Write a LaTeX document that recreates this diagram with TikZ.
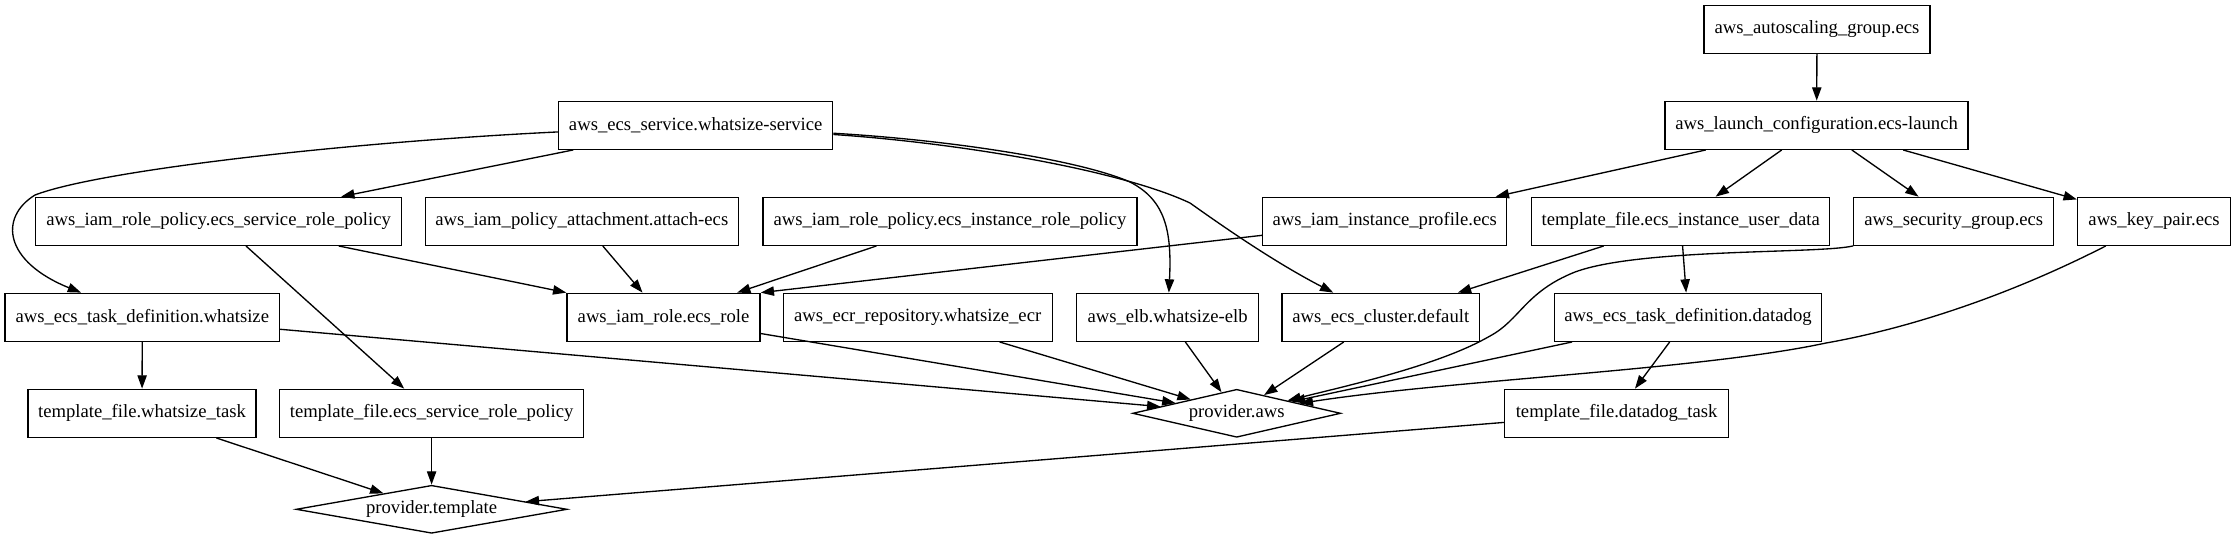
\documentclass[tikz,border=0pt]{standalone}
\usepackage{fontspec}
\setmainfont{Liberation Serif}
\usetikzlibrary{arrows.meta,shapes.geometric}
\begin{document}
\begin{tikzpicture}[x=0.75pt,y=-0.75pt,
  box/.style={draw, rectangle, line width=1pt, minimum height=36pt, inner xsep=3pt, inner ysep=0pt,
    font=\fontsize{14pt}{16pt}\selectfont, minimum width=#1*0.75pt},
  dia/.style 2 args={draw, diamond, line width=1pt, inner sep=0pt, minimum width=#1*0.75pt,
    minimum height=36pt, shape aspect=#2, font=\fontsize{14pt}{16pt}\selectfont},
  edge/.style={line width=1pt, -{Triangle[length=10pt,width=7pt]}}]
\fill[white] (0,0) rectangle (2236,539);
\useasboundingbox (0,0) rectangle (2236,539);

% row 0
\node[box=226] (asg) at (1817,29.3) {aws\_autoscaling\_group.ecs};
% row 1
\node[box=274] (svc) at (695.7,125.3) {aws\_ecs\_service.whatsize-service};
\node[box=303] (lc) at (1816.6,125.3) {aws\_launch\_configuration.ecs-launch};
% row 2
\node[box=366] (iamsrp) at (218.6,221.3) {aws\_iam\_role\_policy.ecs\_service\_role\_policy};
\node[box=313] (attach) at (581.8,221.3) {aws\_iam\_policy\_attachment.attach-ecs};
\node[box=374] (iamirp) at (950,221.3) {aws\_iam\_role\_policy.ecs\_instance\_role\_policy};
\node[box=244] (instprof) at (1384.7,221.3) {aws\_iam\_instance\_profile.ecs};
\node[box=298] (tfuser) at (1680.7,221.3) {template\_file.ecs\_instance\_user\_data};
\node[box=200] (sg) at (1953.8,221.3) {aws\_security\_group.ecs};
\node[box=153] (kp) at (2154,221.3) {aws\_key\_pair.ecs};
% row 3
\node[box=274.5] (tdw) at (142.3,317.3) {aws\_ecs\_task\_definition.whatsize};
\node[box=193] (iamrole) at (663.5,317.3) {aws\_iam\_role.ecs\_role};
\node[box=269] (ecr) at (917.7,317.3) {aws\_ecr\_repository.whatsize\_ecr};
\node[box=182] (elb) at (1167.6,317.3) {aws\_elb.whatsize-elb};
\node[box=197.6] (cluster) at (1380.8,317.3) {aws\_ecs\_cluster.default};
\node[box=267.6] (tddd) at (1688,317.3) {aws\_ecs\_task\_definition.datadog};
% row 4
\node[box=228] (tfw) at (142,413.3) {template\_file.whatsize\_task};
\node[box=304] (tfsrp) at (431.6,413.3) {template\_file.ecs\_service\_role\_policy};
\node[dia={208}{4.33}] (aws) at (1236.7,413.3) {provider.aws};
\node[box=224] (tfdd) at (1616.6,413.3) {template\_file.datadog\_task};
% row 5
\node[dia={271}{5.65}] (ptpl) at (431.6,509.3) {provider.template};

% edges
\draw[edge] (asg) -- (lc);
\draw[edge] (lc) -- (instprof);
\draw[edge] (lc) -- (tfuser);
\draw[edge] (lc) -- (sg);
\draw[edge] (lc) -- (kp);
\draw[edge] (svc) -- (iamsrp);
\draw[edge] (svc) .. controls (350,142) and (100,170) .. (35,195)
  .. controls (-2,218) and (5,262) .. (tdw);
\draw[edge] (svc) .. controls (950,140) and (1080,160) .. (1130,182)
  .. controls (1165,200) and (1172,230) .. (elb);
\draw[edge] (svc) .. controls (960,143) and (1120,170) .. (1190,203)
  .. controls (1235,235) and (1280,265) .. (cluster);
\draw[edge] (iamsrp) -- (iamrole.north west);
\draw[edge] (iamsrp) -- (tfsrp);
\draw[edge] (attach) -- (iamrole);
\draw[edge] (iamirp) -- (iamrole);
\draw[edge] (instprof) -- (iamrole.north east);
\draw[edge] (tfuser) -- (cluster);
\draw[edge] (tfuser) -- (tddd);
\draw[edge] (sg) .. controls (1820,254) and (1640,248) .. (1575,272)
  .. controls (1525,292) and (1520,320) .. (1490,336)
  .. controls (1440,365) and (1350,385) .. (aws);
\draw[edge] (kp) .. controls (2000,300) and (1900,330) .. (1826,343)
  .. controls (1700,370) and (1450,380) .. (aws);
\draw[edge] (tddd) -- (aws);
\draw[edge] (tddd) -- (tfdd);
\draw[edge] (tdw) -- (aws);
\draw[edge] (tdw) -- (tfw);
\draw[edge] (iamrole) -- (aws);
\draw[edge] (ecr) -- (aws);
\draw[edge] (elb) -- (aws);
\draw[edge] (cluster) -- (aws);
\draw[edge] (tfw) -- (ptpl);
\draw[edge] (tfsrp) -- (ptpl);
\draw[edge] (tfdd) -- (ptpl);
\end{tikzpicture}
\end{document}
